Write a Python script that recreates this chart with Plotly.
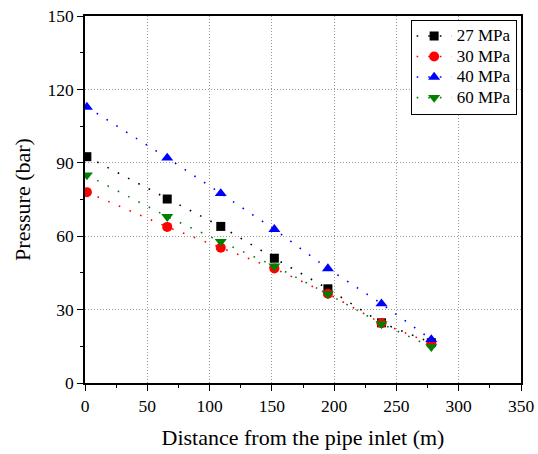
import plotly.graph_objects as go

# Distance along the pipe (m) at each pressure tap
distance = [1.5, 66, 109, 152, 195, 238, 278]

# Measured pressure (bar) for each inlet pressure setting
p_27 = [92.5, 75.2, 64.0, 51.0, 38.5, 24.6, 16.5]
p_30 = [78.0, 63.8, 55.3, 46.8, 36.5, 24.4, 16.2]
p_40 = [112.8, 92.0, 77.5, 62.8, 46.8, 32.4, 17.8]
p_60 = [85.0, 68.0, 57.8, 47.8, 36.4, 24.2, 14.8]

series = [
    ("27 MPa", p_27, "#000000", "square", 9),
    ("30 MPa", p_30, "#ff0000", "circle", 10),
    ("40 MPa", p_40, "#0000ff", "triangle-up", 10.5),
    ("60 MPa", p_60, "#008000", "triangle-down", 10.5),
]

x_ticks = [0, 50, 100, 150, 200, 250, 300, 350]
y_ticks = [0, 30, 60, 90, 120, 150]

FONT = "Liberation Serif"

fig = go.Figure()
for name, vals, color, symbol, size in series:
    fig.add_trace(go.Scatter(
        x=distance, y=vals,
        # larger text inside a tighter legend row
        name=f'<span style="font-size:17px">{name}</span>',
        mode="lines+markers",
        line=dict(color=color, width=1.6, dash="1.6px,10px"),
        marker=dict(color=color, symbol=symbol, size=size, line=dict(width=0)),
    ))

axis_common = dict(
    showline=True, linecolor="black", linewidth=1.5, mirror=True,
    ticks="outside", ticklen=6, tickwidth=1.2, tickcolor="black",
    showgrid=True, gridcolor="#999999", gridwidth=1, griddash="1px,2px",
    zeroline=False, automargin=False,
    tickfont=dict(family=FONT, size=17.5, color="black"),
)

fig.update_xaxes(
    range=[0, 350], tickvals=x_ticks,
    minor=dict(dtick=25, tick0=0, ticks="outside", ticklen=3, tickcolor="black", showgrid=False),
    title=dict(text="Distance from the pipe inlet (m)", font=dict(family=FONT, size=22, color="black"), standoff=15),
    **axis_common,
)
fig.update_yaxes(
    range=[0, 150], tickvals=y_ticks,
    minor=dict(dtick=15, tick0=0, ticks="outside", ticklen=3, tickcolor="black", showgrid=False),
    title=dict(text="Pressure (bar)", font=dict(family=FONT, size=22, color="black"), standoff=11),
    **axis_common,
)

fig.update_layout(
    width=538, height=454,
    margin=dict(l=85, r=17, t=16, b=71),
    paper_bgcolor="white", plot_bgcolor="white",
    font=dict(family=FONT, color="black"),
    legend=dict(
        x=0.99, y=0.99, xanchor="right", yanchor="top",
        bgcolor="white", bordercolor="black", borderwidth=1,
        font=dict(family=FONT, size=13.5, color="black"),
        tracegroupgap=0, itemwidth=35,
    ),
)

fig.write_html("out.html")
